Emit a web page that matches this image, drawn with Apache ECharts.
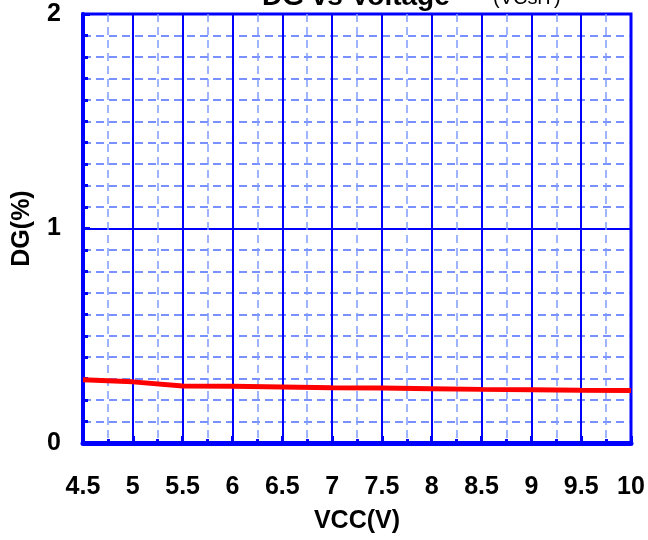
<!DOCTYPE html>
<html>
<head>
<meta charset="utf-8">
<script src="https://cdn.jsdelivr.net/npm/echarts@6/dist/echarts.min.js"></script>
<style>
html,body{margin:0;padding:0;background:#fff;}
#c{width:648px;height:540px;}
</style>
</head>
<body>
<div id="c"></div>
<script>
var vcc = [4.5, 5, 5.5, 6, 6.5, 7, 7.5, 8, 8.5, 9, 9.5, 10];
var dg = [0.295, 0.285, 0.266, 0.264, 0.261, 0.258, 0.256, 0.253, 0.250, 0.248, 0.246, 0.245];
var titleText = 'DG vs Voltage';
var subText = '(VCslT)';
var xName = 'VCC(V)';
var yName = 'DG(%)';

var font = 'Liberation Sans, Arial, sans-serif';
var chart = echarts.init(document.getElementById('c'));
chart.setOption({
  animation: false,
  backgroundColor: '#ffffff',
  title: [
    {text: titleText, left: 262, top: -17, padding: 0,
     textStyle: {fontFamily: font, fontSize: 28, fontWeight: 'bold', color: '#000'}},
    {text: subText, left: 493, top: -12, padding: 0,
     textStyle: {fontFamily: font, fontSize: 20, fontWeight: 'normal', color: '#000'}}
  ],
  grid: {left: 83, right: 17, top: 14, bottom: 97, show: true,
         borderColor: '#0000ff', borderWidth: 3, backgroundColor: 'transparent'},
  xAxis: {
    type: 'value', min: 4.5, max: 10, interval: 0.5,
    name: xName, nameLocation: 'middle', nameGap: 66,
    nameTextStyle: {fontFamily: font, fontSize: 25, fontWeight: 'bold', color: '#000'},
    axisLine: {lineStyle: {color: '#0000ff', width: 5}},
    axisTick: {inside: true, length: 7, lineStyle: {color: '#0000ff', width: 3}},
    minorTick: {show: true, splitNumber: 2, length: 4, lineStyle: {color: '#0000ff', width: 3}},
    axisLabel: {fontFamily: font, fontSize: 25, fontWeight: 'bold', color: '#000', margin: 32,
      formatter: function (v) { return String(v); }},
    splitLine: {show: true, lineStyle: {color: '#0000ff', width: 2}},
    minorSplitLine: {show: true, lineStyle: {color: '#7f9cff', width: 1.5, type: [8, 5]}}
  },
  yAxis: {
    type: 'value', min: 0, max: 2, interval: 1,
    name: yName, nameLocation: 'middle', nameGap: 48,
    nameTextStyle: {fontFamily: font, fontSize: 25, fontWeight: 'bold', color: '#000'},
    axisLine: {show: true, lineStyle: {color: '#0000ff', width: 4}},
    axisTick: {show: true, inside: true, length: 7, lineStyle: {color: '#0000ff', width: 3}},
    minorTick: {show: true, splitNumber: 10, length: 5, lineStyle: {color: '#0000ff', width: 3}},
    axisLabel: {fontFamily: font, fontSize: 25, fontWeight: 'bold', color: '#000', margin: 22},
    splitLine: {show: true, lineStyle: {color: '#0000ff', width: 2}},
    minorSplitLine: {show: true, lineStyle: {color: '#4d6dff', width: 1.5, type: [8, 5]}}
  },
  series: [{
    type: 'line',
    data: vcc.map(function (x, i) { return [x, dg[i]]; }),
    showSymbol: false,
    symbol: 'none',
    lineStyle: {color: '#ff0000', width: 5},
    z: 5
  }]
});
</script>
</body>
</html>
